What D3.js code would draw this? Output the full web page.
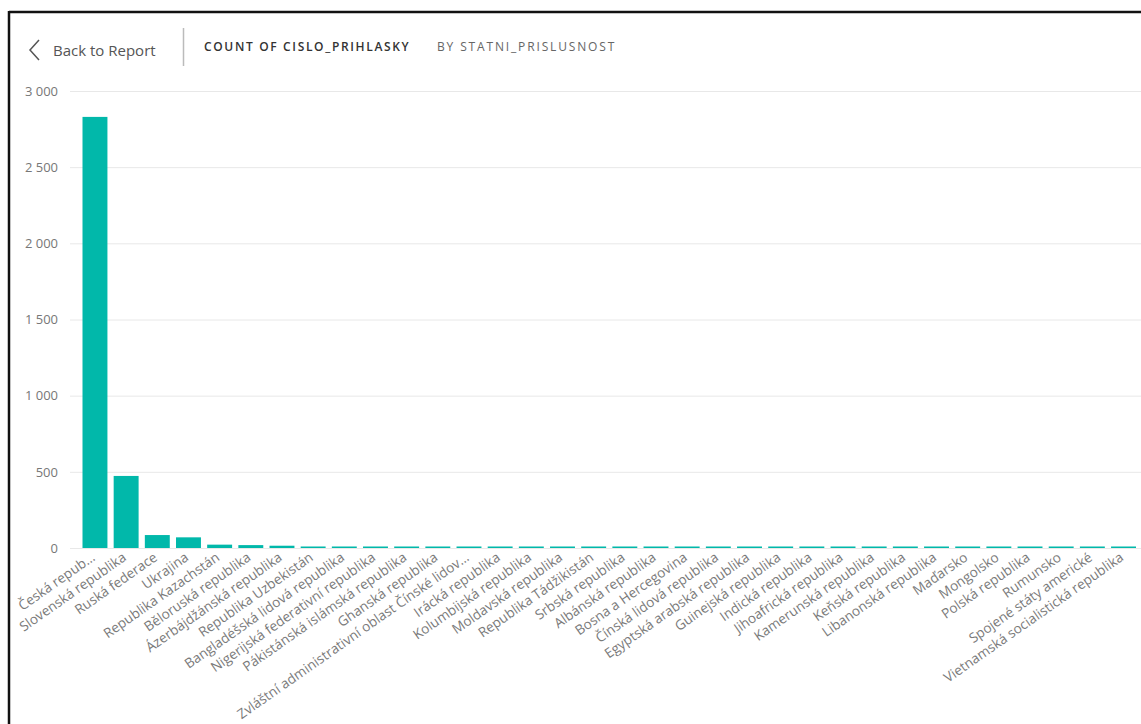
<!DOCTYPE html>
<html>
<head>
<meta charset="utf-8">
<script src="https://cdn.jsdelivr.net/npm/d3@7"></script>
<style>
html,body{margin:0;padding:0;background:#fff;}
svg{display:block;font-family:"Open Sans","Noto Sans",sans-serif;}
</style>
</head>
<body>
<svg id="chart" width="1141" height="724"></svg>
<script>
const categories = [
  "Česká repub…","Slovenská republika","Ruská federace","Ukrajina","Republika Kazachstán",
  "Běloruská republika","Ázerbájdžánská republika","Republika Uzbekistán","Bangladéšská lidová republika",
  "Nigerijská federativní republika","Pákistánská islámská republika","Ghanská republika",
  "Zvláštní administrativní oblast Čínské lidov…","Irácká republika","Kolumbijská republika",
  "Moldavská republika","Republika Tádžikistán","Srbská republika","Albánská republika",
  "Bosna a Hercegovina","Čínská lidová republika","Egyptská arabská republika","Guinejská republika",
  "Indická republika","Jihoafrická republika","Kamerunská republika","Keňská republika",
  "Libanonská republika","Maďarsko","Mongolsko","Polská republika","Rumunsko",
  "Spojené státy americké","Vietnamská socialistická republika"
];
const values = [
  2830, 473, 85, 70, 22,
  19, 15, 8, 5,
  5, 5, 4,
  4, 3, 3,
  3, 3, 3, 2,
  2, 2, 2, 2,
  2, 2, 2, 2,
  2, 2, 2, 2, 2,
  2, 2
];
const yTicks = [0, 500, 1000, 1500, 2000, 2500, 3000];
const yTickLabels = ["0", "500", "1 000", "1 500", "2 000", "2 500", "3 000"];

const svg = d3.select("#chart");
const W = 1141, H = 724;

// frame
svg.append("line").attr("x1", 9).attr("x2", W).attr("y1", 12).attr("y2", 12)
  .attr("stroke", "#111").attr("stroke-width", 2.5);
svg.append("line").attr("x1", 9).attr("x2", 9).attr("y1", 11).attr("y2", H)
  .attr("stroke", "#111").attr("stroke-width", 2.5);

// header
svg.append("path").attr("d", "M39,40 L30,50 L39,60").attr("fill", "none")
  .attr("stroke", "#555").attr("stroke-width", 1.5);
svg.append("text").attr("x", 53).attr("y", 56).text("Back to Report")
  .attr("font-size", 15).attr("fill", "#555");
svg.append("line").attr("x1", 183.5).attr("x2", 183.5).attr("y1", 28).attr("y2", 66)
  .attr("stroke", "#bbb").attr("stroke-width", 1.5);
svg.append("text").attr("x", 204).attr("y", 51).text("COUNT OF CISLO_PRIHLASKY")
  .attr("font-size", 12).attr("font-weight", 600).attr("letter-spacing", 1.65).attr("fill", "#333");
svg.append("text").attr("x", 437).attr("y", 51).text("BY STATNI_PRISLUSNOST")
  .attr("font-size", 12).attr("letter-spacing", 1.85).attr("fill", "#666");

const m = {top: 91, bottom: 548};
const x = d3.scaleBand().domain(categories).range([82.5, 1136]).paddingInner(0.2).paddingOuter(0);
const y = d3.scaleLinear().domain([0, 3000]).range([m.bottom, m.top]);

// grid + y labels
const yAxis = d3.axisLeft(y).tickValues(yTicks)
  .tickFormat((d, i) => yTickLabels[i]).tickSize(-(W - 70)).tickPadding(12);
const gy = svg.append("g").attr("transform", "translate(70,0)").call(yAxis);
gy.select(".domain").remove();
gy.selectAll(".tick line").attr("stroke", "#e8e8e8").attr("stroke-width", 1);
gy.selectAll(".tick text").attr("font-size", 13).attr("fill", "#777")
  .attr("font-family", "'Open Sans','Noto Sans',sans-serif");

// bars
svg.append("g").selectAll("rect").data(categories).join("rect")
  .attr("x", d => x(d))
  .attr("width", x.bandwidth())
  .attr("y", (d, i) => Math.min(y(values[i]), m.bottom - 1.5))
  .attr("height", (d, i) => Math.max(m.bottom - y(values[i]), 1.5))
  .attr("fill", "#01B8AA");

// x labels
const xAxis = d3.axisBottom(x).tickSize(0).tickPadding(0);
const gx = svg.append("g").attr("transform", `translate(0,${m.bottom})`).call(xAxis);
gx.select(".domain").remove();
gx.selectAll(".tick text")
  .attr("font-size", 13.6).attr("fill", "#7a7a7a")
  .attr("font-family", "'Open Sans','Noto Sans',sans-serif")
  .attr("text-anchor", "end")
  .attr("dy", null)
  .attr("transform", "translate(1,11.5) rotate(-35)");
</script>
</body>
</html>
